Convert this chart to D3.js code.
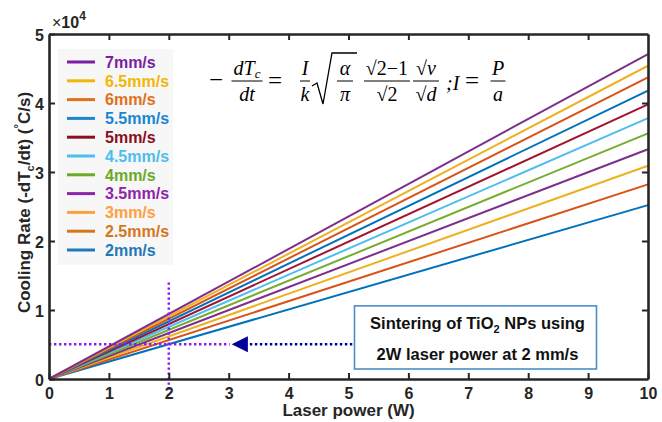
<!DOCTYPE html>
<html>
<head>
  <meta charset="utf-8">
  <title>cooling rate</title>
  <style>
    body {margin:0; background:#fff;}
    svg text {font-family: "Liberation Sans", Arial, sans-serif;}
    .eq text {font-family: "Liberation Serif", "DejaVu Serif", serif; font-style: italic; font-size: 20px; fill: #000;}
  </style>
</head>
<body>
<script src="https://cdn.jsdelivr.net/npm/d3@7"></script>
<script>
  // data
  var speeds = ['2mm/s','2.5mm/s','3mm/s','3.5mm/s','4mm/s','4.5mm/s','5mm/s','5.5mm/s','6mm/s','6.5mm/s','7mm/s'];
  var power = [0, 10];                       // W
  var rateAt0 = [0,0,0,0,0,0,0,0,0,0,0];
  var rateAt10 = [25200, 28200, 30900, 33300, 35600, 37800, 39800, 41800, 43700, 45400, 47100];
  var lineColors = ['#0072BD','#D95319','#EDB120','#7E2F8E','#77AC30','#4DBEEE','#A2142F','#0072BD','#D95319','#EDB120','#7E2F8E'];
  var legendColors = ['#1F78B8','#D6761A','#FFA040','#8E24AA','#6AAA28','#4DBEEE','#8B0F1E','#1A86D0','#E0701A','#F2B705','#7B1FA2'];
  var xTicks = [0,1,2,3,4,5,6,7,8,9,10];
  var yTicks = [0,10000,20000,30000,40000,50000];

  // marker for 2W @ 2mm/s
  var markPower = 2, markRate = 5040;
  var vGuide = [14000, -1700];
  var arrowTip = 3.05, arrowBase = 3.32, navyEnd = 5.1;
  var note = {x0: 5.1, x1: 9.14, y0: 10600, y1: 1450};
  var noteLines = ['Sintering of TiO|2| NPs using', '2W laser power at 2 mm/s'];

  var width = 662, height = 422,
      margin = {top: 34, right: 14, bottom: 43, left: 49};

  var x = d3.scaleLinear().domain([0, 10]).range([margin.left, width - margin.right]);
  var y = d3.scaleLinear().domain([0, 50000]).range([height - margin.bottom, margin.top]);

  var svg = d3.select('body').append('svg')
    .attr('width', width)
    .attr('height', height);

  // series lines
  var series = speeds.map(function(s, i){
    return {name: s, color: lineColors[i], pts: [[power[0], rateAt0[i]], [power[1], rateAt10[i]]]};
  });

  var line = d3.line().x(function(d){ return x(d[0]); }).y(function(d){ return y(d[1]); });

  svg.append('g').selectAll('path')
    .data(series)
    .enter().append('path')
    .attr('d', function(d){ return line(d.pts); })
    .attr('fill', 'none')
    .attr('stroke', function(d){ return d.color; })
    .attr('stroke-width', 2);

  // guides
  var guides = svg.append('g').attr('stroke-width', 2.5).attr('stroke-dasharray', '2.4,2.6');
  guides.append('line')
    .attr('x1', x(markPower)).attr('x2', x(markPower))
    .attr('y1', y(vGuide[0])).attr('y2', y(vGuide[1]))
    .attr('stroke', '#8A1CF0');
  guides.append('line')
    .attr('x1', x(0)).attr('x2', x(arrowTip) - 2)
    .attr('y1', y(markRate)).attr('y2', y(markRate))
    .attr('stroke', '#8A1CF0');
  guides.append('line')
    .attr('x1', x(arrowBase) + 2).attr('x2', x(navyEnd))
    .attr('y1', y(markRate)).attr('y2', y(markRate))
    .attr('stroke', '#000099');
  svg.append('path')
    .attr('d', 'M' + x(arrowTip) + ',' + y(markRate) +
               'L' + x(arrowBase) + ',' + (y(markRate) - 8) +
               'L' + x(arrowBase) + ',' + (y(markRate) + 8) + 'Z')
    .attr('fill', '#000099');

  // axes box with inward ticks
  var axisColor = '#262626';
  var axBottom = svg.append('g')
    .attr('transform', 'translate(0,' + y(0) + ')')
    .call(d3.axisBottom(x).tickValues(xTicks).tickSizeInner(-6).tickSizeOuter(0).tickPadding(9));
  var axTop = svg.append('g')
    .attr('transform', 'translate(0,' + y(50000) + ')')
    .call(d3.axisTop(x).tickValues(xTicks.slice(1, -1)).tickSizeInner(-6).tickSizeOuter(0).tickFormat(''));
  var axLeft = svg.append('g')
    .attr('transform', 'translate(' + x(0) + ',0)')
    .call(d3.axisLeft(y).tickValues(yTicks).tickSizeInner(-6).tickSizeOuter(0).tickPadding(5)
      .tickFormat(function(d){ return d / 10000; }));
  var axRight = svg.append('g')
    .attr('transform', 'translate(' + x(10) + ',0)')
    .call(d3.axisRight(y).tickValues(yTicks.slice(1, -1)).tickSizeInner(-6).tickSizeOuter(0).tickFormat(''));

  [axBottom, axTop, axLeft, axRight].forEach(function(g){
    g.attr('font-size', 16).attr('font-weight', 'bold')
     .attr('font-family', '"Liberation Sans", Arial, sans-serif');
    g.select('.domain').attr('stroke', axisColor).attr('stroke-width', 2.6);
    g.selectAll('.tick line').attr('stroke', axisColor).attr('stroke-width', 2);
    g.selectAll('.tick text').attr('fill', axisColor);
  });
  axLeft.selectAll('.tick text').attr('dy', '0.4em');

  // exponent
  var ex = svg.append('text').attr('x', x(0) + 3).attr('y', 28)
    .attr('font-size', 16).attr('font-weight', 'bold').attr('fill', axisColor);
  ex.append('tspan').attr('font-weight', 'normal').text('×');
  ex.append('tspan').text('10');
  ex.append('tspan').attr('font-size', 12).attr('dy', -8).text('4');

  // axis labels
  svg.append('text')
    .attr('x', (x(0) + x(10)) / 2).attr('y', 416)
    .attr('text-anchor', 'middle').attr('font-weight', 'bold').attr('font-size', 17)
    .attr('fill', axisColor)
    .text('Laser power (W)');

  var yl = svg.append('text')
    .attr('transform', 'translate(30,' + (y(25000) - 4) + ') rotate(-90)')
    .attr('text-anchor', 'middle').attr('font-weight', 'bold').attr('font-size', 17)
    .attr('fill', axisColor);
  yl.append('tspan').text('Cooling Rate (-dT');
  yl.append('tspan').attr('font-size', 11).attr('dy', 4).text('c');
  yl.append('tspan').attr('dy', -4).text('/dt) (');
  yl.append('tspan').attr('font-size', 11).attr('dy', -8).text('°');
  yl.append('tspan').attr('dy', 8).text('C/s)');

  // legend
  var lg = svg.append('g');
  lg.append('rect')
    .attr('x', 58).attr('y', 49).attr('width', 115).attr('height', 216)
    .attr('fill', '#f7f7f7');
  var items = lg.selectAll('g.item')
    .data(series.map(function(d, i){ return {name: d.name, color: legendColors[i]}; }).reverse())
    .enter().append('g')
    .attr('transform', function(d, i){ return 'translate(67,' + (62 + i * 18.8) + ')'; });
  items.append('line')
    .attr('x1', 0).attr('x2', 28)
    .attr('stroke', function(d){ return d.color; })
    .attr('stroke-width', 3);
  items.append('text')
    .attr('x', 38).attr('dy', '0.36em')
    .attr('font-weight', 'bold').attr('font-size', 16)
    .attr('fill', function(d){ return d.color; })
    .text(function(d){ return d.name; });

  // note box
  svg.append('rect')
    .attr('x', x(note.x0)).attr('y', y(note.y0))
    .attr('width', x(note.x1) - x(note.x0)).attr('height', y(note.y1) - y(note.y0))
    .attr('fill', '#fff').attr('stroke', '#4A8FC8').attr('stroke-width', 1.6);
  var cx = (x(note.x0) + x(note.x1)) / 2 + 2;
  noteLines.forEach(function(s, i){
    var t = svg.append('text')
      .attr('x', cx).attr('y', y(note.y0) + 23 + i * 31)
      .attr('text-anchor', 'middle').attr('font-weight', 'bold').attr('font-size', 16.5)
      .attr('fill', '#111');
    s.split('|').forEach(function(part, j){
      if (j % 2 === 1) {
        t.append('tspan').attr('font-size', 11).attr('dy', 4).text(part);
      } else {
        t.append('tspan').attr('dy', j ? -4 : 0).text(part);
      }
    });
  });

  // equation
  var eq = svg.append('g').attr('class', 'eq');
  var bar = 81, num = 75, den = 101;

  function frac(cx, n, d, w){
    eq.append('line').attr('x1', cx - w / 2).attr('x2', cx + w / 2)
      .attr('y1', bar).attr('y2', bar).attr('stroke', '#000').attr('stroke-width', 1);
    var tn = eq.append('text').attr('x', cx).attr('y', num).attr('text-anchor', 'middle');
    n(tn);
    var td = eq.append('text').attr('x', cx).attr('y', den).attr('text-anchor', 'middle');
    d(td);
  }
  function txt(s){ return function(t){ t.text(s); }; }
  function op(xp, yp, s){
    eq.append('text').attr('x', xp).attr('y', yp)
      .style('font-size', '25px').style('font-style', 'normal').text(s);
  }

  op(209, 88, '−');
  frac(247, function(t){
    t.append('tspan').text('dT');
    t.append('tspan').style('font-size', '13px').attr('dy', 3).text('c');
  }, txt('dt'), 31);
  op(268, 89, '=');
  frac(305, txt('I'), txt('k'), 10);
  // radical
  eq.append('path')
    .attr('d', 'M312,86 L317,83 L323,104 L332,53 L357,53')
    .attr('fill', 'none').attr('stroke', '#000').attr('stroke-width', 1.3);
  frac(345, txt('α'), txt('π'), 16);
  frac(387, function(t){
    t.style('font-style', 'normal').text('√2−1');
  }, function(t){
    t.style('font-style', 'normal').text('√2');
  }, 46);
  frac(426, function(t){
    t.append('tspan').style('font-style', 'normal').text('√');
    t.append('tspan').text('v');
  }, function(t){
    t.append('tspan').style('font-style', 'normal').text('√');
    t.append('tspan').text('d');
  }, 26);
  eq.append('text').attr('x', 446).attr('y', 90).text(';I');
  op(465, 89, '=');
  frac(498, txt('P'), txt('a'), 15);
</script>
</body>
</html>
